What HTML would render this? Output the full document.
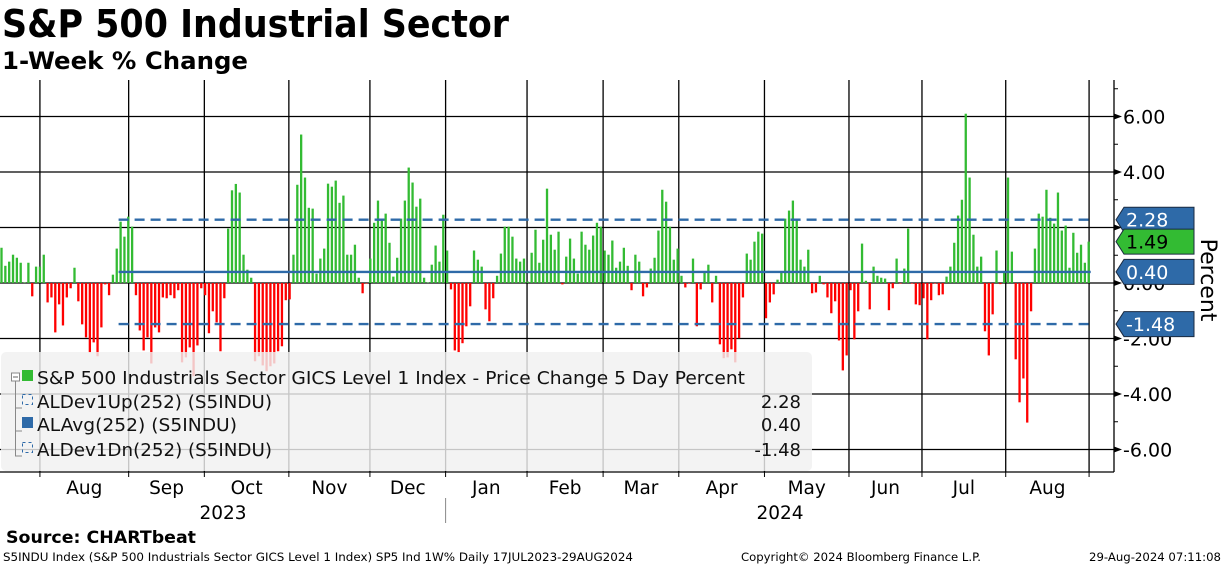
<!DOCTYPE html>
<html><head><meta charset="utf-8"><style>
html,body{margin:0;padding:0;background:#fff;}
svg{display:block;font-family:"DejaVu Sans","Liberation Sans",sans-serif;}
</style></head><body>
<svg id="chart" width="1224" height="566" viewBox="0 0 1224 566" xmlns="http://www.w3.org/2000/svg">
<text x="2" y="37" font-size="38" font-weight="bold" textLength="507" lengthAdjust="spacingAndGlyphs">S&amp;P 500 Industrial Sector</text>
<text x="2" y="69" font-size="24" font-weight="bold" textLength="246" lengthAdjust="spacingAndGlyphs">1-Week % Change</text>
<g id="grid"></g>
<g id="bars"></g>
<g id="lines"></g>
<g id="legend"></g>
<g id="axis"></g>
<g id="xaxis"></g>
<text transform="translate(1201,280) rotate(90)" font-size="22" text-anchor="middle">Percent</text>
<text x="6" y="543" font-size="17" font-weight="bold" textLength="190" lengthAdjust="spacingAndGlyphs">Source: CHARTbeat</text>
<text x="3" y="561" font-size="11.5" textLength="630" lengthAdjust="spacingAndGlyphs">S5INDU Index (S&amp;P 500 Industrials Sector GICS Level 1 Index) SP5 Ind 1W% Daily 17JUL2023-29AUG2024</text>
<text x="741" y="561" font-size="11.5" textLength="240" lengthAdjust="spacingAndGlyphs">Copyright© 2024 Bloomberg Finance L.P.</text>
<text x="1089" y="561" font-size="11.5" textLength="132" lengthAdjust="spacingAndGlyphs">29-Aug-2024 07:11:08</text>
</svg>
<script>
const values = [
1.27,0.62,0.77,1.02,0.91,0.73,0.02,0.73,-0.48,0.59,0.59,1.02,-0.70,-0.52,-1.78,-0.77,-1.53,-0.52,-0.19,0.55,-0.66,-1.49,-1.96,-2.50,-2.14,-2.64,-1.60,-0.05,-0.44,0.30,1.24,2.21,1.67,2.39,2.03,-0.44,-1.71,-2.43,-1.96,-2.90,-1.60,-1.78,-0.52,-0.55,-0.44,-0.55,-0.26,-2.86,-2.68,-2.32,-3.36,-2.25,-0.19,-0.44,-1.81,-1.02,-1.42,-2.46,-0.55,1.96,3.34,3.57,3.26,1.02,0.48,0.19,-2.82,-2.64,-2.97,-3.18,-3.00,-2.90,-2.46,-2.28,-0.62,-0.59,1.02,3.54,
5.35,3.80,2.71,2.68,0.34,0.88,1.24,3.58,3.47,3.69,2.89,3.15,1.02,1.02,1.38,0.19,-0.37,-0.02,0.88,2.17,2.97,2.32,2.50,1.45,0.23,0.91,2.32,2.97,4.16,3.62,2.75,3.04,0.19,0.02,0.66,1.35,0.77,2.46,1.17,-0.23,-2.43,-2.50,-2.17,-1.56,-0.84,1.17,0.84,0.59,-0.95,-1.38,-0.55,0.26,1.06,2.03,2.03,1.67,0.88,0.77,0.88,0.05,1.09,1.92,0.73,1.56,3.40,1.74,1.20,1.85,-0.05,0.95,1.60,0.88,0.34,
1.85,1.38,1.20,1.71,2.17,2.03,1.17,1.02,1.53,0.55,0.77,1.27,0.62,-0.26,1.02,0.77,-0.48,-0.16,0.52,0.91,1.89,3.36,2.93,2.03,0.84,1.24,0.26,-0.16,-0.01,0.88,-1.56,-0.23,0.37,0.66,-0.70,0.26,-2.21,-2.71,-2.68,-2.39,-2.86,-1.99,-0.52,1.06,0.84,1.49,1.85,1.78,-1.27,-0.70,-0.41,0.12,0.41,2.32,2.61,2.97,2.32,0.84,0.59,1.20,-0.37,-0.34,0.26,-0.05,-0.52,-1.09,-0.66,-2.07,-3.15,-2.61,-0.26,-2.03,-1.02,
1.42,0.08,-0.95,0.59,0.26,0.19,0.16,-0.98,-0.19,0.88,-0.01,0.52,1.96,-0.02,-0.77,-0.80,-0.55,-2.03,-0.62,-0.02,-0.44,-0.41,0.23,0.59,1.45,2.43,3.00,6.10,3.80,1.74,0.59,0.95,-1.74,-2.61,-1.13,1.17,-0.04,0.37,3.80,1.13,-2.75,-4.30,-3.44,-5.03,-1.02,1.24,2.50,2.39,3.36,2.35,2.14,3.26,1.89,2.07,0.55,1.81,1.09,1.38,0.73,1.49
];
const refLevels = [2.28, 0.40, -1.48];
const refNames = ["ALDev1Up(252) (S5INDU)", "ALAvg(252) (S5INDU)", "ALDev1Dn(252) (S5INDU)"];
const refStartIdx = 31;
const yTicks = [6, 4, 2, 0, -2, -4, -6];
const yTickLabels = ["6.00","4.00","2.00","0.00","-2.00","-4.00","-6.00"];
const monthStartIdx = [10.5,33.6,53.3,75.3,96.4,116.1,137.3,157.1,176.8,199.1,221.1,240.1,261.9,283.6];
const monthLabels = ["Aug","Sep","Oct","Nov","Dec","Jan","Feb","Mar","Apr","May","Jun","Jul","Aug"];
const yearLabels = ["2023","2024"];
const yearStartMonth = [0, 5];
const lastValue = values[values.length-1];

const NS="http://www.w3.org/2000/svg";
const X0=1.5, X1=1088.7, Y0=283, PPU=27.75, TOP=80, BOT=472, RAX=1114;
const step=(X1-X0)/(values.length-1);
function xs(i){return X0+i*step;}
function ys(v){return Y0-v*PPU;}
function mk(tag,attrs,parent){const e=document.createElementNS(NS,tag);for(const k in attrs)e.setAttribute(k,attrs[k]);parent.appendChild(e);return e;}
const grid=document.getElementById('grid'), bars=document.getElementById('bars'), lines=document.getElementById('lines'), legend=document.getElementById('legend'), axis=document.getElementById('axis'), xaxis=document.getElementById('xaxis');

yTicks.forEach(t=>{
  const l=mk('line',{x1:0,x2:RAX,y1:ys(t),y2:ys(t),stroke:'#000','stroke-width':1.3},grid);
  
  
});
const gx=monthStartIdx.map(i=>xs(i)-step/2);
gx.forEach(x=>{
  const l=mk('line',{x1:x,x2:x,y1:TOP,y2:BOT,stroke:'#000','stroke-width':1.3},grid);
  
  
});
values.forEach((v,i)=>{
  const y=ys(Math.max(v,0)), h=Math.max(Math.abs(v)*PPU,0.6);
  const r=mk('rect',{x:xs(i)-1.15,y:v>=0?y:Y0,width:2.3,height:h,fill:v>=0?'#33bb33':'#ff0000'},bars);
  
  
});
refLevels.forEach((v,k)=>{
  const l=mk('line',{x1:xs(refStartIdx)-2,x2:X1+2,y1:ys(v),y2:ys(v),stroke:'#2e6aa8','stroke-width':2.4},lines);
  if(k!==1) l.setAttribute('stroke-dasharray','10 6');
  
  
});
const lb=mk('rect',{x:1,y:352,width:811,height:119,rx:5,fill:'#f0f0f0','fill-opacity':0.82},legend);


mk('path',{d:'M15.5 381 V456 H22 M15.5 408 H22 M15.5 431 H22',stroke:'#888',fill:'none','stroke-width':1},legend);
mk('rect',{x:11.5,y:373,width:8,height:8,fill:'#fff',stroke:'#888'},legend);
mk('line',{x1:13,x2:18,y1:377,y2:377,stroke:'#666'},legend);
const rows=[{y:384,name:"S&P 500 Industrials Sector GICS Level 1 Index - Price Change 5 Day Percent",val:null,icon:'green',w:708},
{y:408,name:refNames[0],val:refLevels[0],icon:'dash',w:235},{y:431,name:refNames[1],val:refLevels[1],icon:'solid',w:200},{y:456,name:refNames[2],val:refLevels[2],icon:'dash',w:235}];
rows.forEach(r=>{
  const g=mk('g',{},legend);
  
  
  if(r.icon==='green') mk('rect',{x:22,y:370,width:11,height:11,fill:'#33bb33'},g);
  else if(r.icon==='solid') mk('rect',{x:22,y:r.y-14,width:11,height:11,fill:'#2e6aa8'},g);
  else mk('rect',{x:22.5,y:r.y-13.5,width:10,height:10,fill:'none',stroke:'#2e6aa8','stroke-dasharray':'3 3'},g);
  const t=mk('text',{x:37,y:r.y,'font-size':18,fill:'#111',textLength:r.w,lengthAdjust:'spacingAndGlyphs'},g);
  t.textContent=r.name;
  if(r.val!==null){const tv=mk('text',{x:801,y:r.y,'font-size':18,'text-anchor':'end',fill:'#111'},g);tv.textContent=r.val.toFixed(2);}
});
mk('line',{x1:RAX,x2:RAX,y1:TOP,y2:BOT,stroke:'#000','stroke-width':1.3},axis);
for(let v=7;v>=-6.5;v-=1){mk('line',{x1:RAX,x2:RAX+4,y1:ys(v),y2:ys(v),stroke:'#000'},axis);}
yTicks.forEach((t,k)=>{
  mk('path',{d:`M${RAX} ${ys(t)-3} L${RAX+8} ${ys(t)} L${RAX} ${ys(t)+3}Z`,fill:'#000'},axis);
  const tx=mk('text',{x:RAX+9,y:ys(t)+7,'font-size':19},axis);
  
  
  tx.textContent=yTickLabels[k];
});
const tags=[{v:refLevels[0],c:'#2e6aa8',tc:'#fff'},{v:lastValue,c:'#33bb33',tc:'#000'},{v:refLevels[1],c:'#2e6aa8',tc:'#fff'},{v:refLevels[2],c:'#2e6aa8',tc:'#fff'}];
tags.forEach(tg=>{
  const y=ys(tg.v), g=mk('g',{},axis);
  
  
  mk('path',{d:`M${RAX+2} ${y} L${RAX+10} ${y-12.5} H1194 V${y+12.5} H${RAX+10}Z`,fill:tg.c,stroke:'#1a2a40','stroke-width':1},g);
  const t=mk('text',{x:RAX+12,y:y+7,'font-size':19,fill:tg.tc},g);
  t.textContent=tg.v.toFixed(2);
});
mk('line',{x1:0,x2:RAX,y1:BOT,y2:BOT,stroke:'#000','stroke-width':1.3},xaxis);
gx.forEach(x=>{mk('line',{x1:x,x2:x,y1:BOT,y2:BOT+5,stroke:'#000'},xaxis);});
monthLabels.forEach((m,k)=>{
  const t=mk('text',{x:(gx[k]+gx[k+1])/2,y:494,'font-size':18.5,'text-anchor':'middle'},xaxis);
  
  
  t.textContent=m;
});
yearLabels.forEach((yl,k)=>{
  const t=mk('text',{x:k===0?223:780,y:519,'font-size':18.5,'text-anchor':'middle'},xaxis);
  
  
  t.textContent=yl;
});
mk('line',{x1:gx[yearStartMonth[1]],x2:gx[yearStartMonth[1]],y1:498,y2:523,stroke:'#888'},xaxis);
</script>
</body></html>
